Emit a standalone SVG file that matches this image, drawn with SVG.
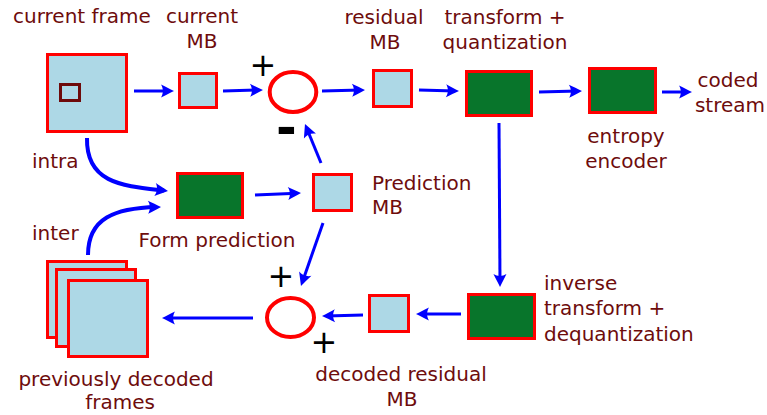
<svg xmlns="http://www.w3.org/2000/svg" width="767" height="415" viewBox="0 0 767 415">
  <style>
    .lbl { font-family: "DejaVu Sans", "Noto Sans", sans-serif; font-size: 20px; fill: #6e0c0c; }
    .mid { text-anchor: middle; }
    .sign { font-family: "DejaVu Sans", sans-serif; fill: #000; text-anchor: middle; }
    .blk { fill: #add8e6; stroke: #ff0000; stroke-width: 3; }
    .op { fill: #08752b; stroke: #ff0000; stroke-width: 3; }
    .sum { fill: #ffffff; stroke: #ff0000; stroke-width: 4; }
    .flow { fill: none; stroke: #0000ff; stroke-width: 3; marker-end: url(#arr); }
    .bend { fill: none; stroke: #0000ff; stroke-width: 4; marker-end: url(#arr); }
  </style>
  <defs>
    <marker id="arr" markerUnits="userSpaceOnUse" viewBox="-12 -8 18 16" refX="0" refY="0" markerWidth="18" markerHeight="16" orient="auto" overflow="visible">
      <path d="M4,0 C0,-2 -5,-4.5 -9,-6.5 C-6.5,-2.5 -6.5,2.5 -9,6.5 C-5,4.5 0,2 4,0 Z" fill="#0000ff"/>
    </marker>
  </defs>
  <rect width="767" height="415" fill="#ffffff"/>

  <!-- connectors -->
  <g id="connectors">
    <line class="flow" x1="134" y1="91" x2="170" y2="91"/>
    <line class="flow" x1="223" y1="91" x2="259" y2="90"/>
    <line class="flow" x1="322" y1="91" x2="361" y2="90"/>
    <line class="flow" x1="419" y1="90" x2="455" y2="91"/>
    <line class="flow" x1="539" y1="92" x2="578" y2="91"/>
    <line class="flow" x1="662" y1="92" x2="688" y2="92"/>
    <line class="flow" x1="321" y1="163" x2="306.5" y2="127.7"/>
    <line class="flow" x1="255" y1="195" x2="297" y2="193.2"/>
    <line class="flow" x1="323" y1="223" x2="302.3" y2="282.2"/>
    <line class="flow" x1="499" y1="123" x2="500" y2="283"/>
    <line class="flow" x1="461" y1="314" x2="420" y2="314"/>
    <line class="flow" x1="363" y1="315" x2="326" y2="316"/>
    <line class="flow" x1="253" y1="318" x2="166" y2="318"/>
    <path class="bend" d="M87,138 C86,184 124,186 164,190.5"/>
    <path class="bend" d="M88,255 C88,218 115,208 157,207"/>
  </g>

  <!-- current frame with the macroblock marked inside it -->
  <g id="current-frame">
    <rect class="blk" x="47.5" y="54.5" width="79" height="77"/>
    <rect x="60.5" y="84.5" width="19" height="16" fill="#add8e6" stroke="#6e0a0a" stroke-width="3"/>
    <text class="lbl" x="13" y="23">current frame</text>
  </g>

  <g id="current-mb">
    <rect class="blk" x="179.5" y="73.5" width="37" height="34"/>
    <text class="lbl mid" x="202" y="23">current</text>
    <text class="lbl mid" x="202" y="48">MB</text>
  </g>

  <g id="subtract">
    <ellipse class="sum" cx="293" cy="92" rx="23.3" ry="20"/>
    <text class="sign" x="263" y="76" font-size="32">+</text>
    <text class="sign" x="286.5" y="145" font-size="50" font-weight="bold">-</text>
  </g>

  <g id="residual-mb">
    <rect class="blk" x="373.5" y="70.5" width="38" height="36"/>
    <text class="lbl mid" x="384" y="24">residual</text>
    <text class="lbl mid" x="385" y="49">MB</text>
  </g>

  <g id="transform">
    <rect class="op" x="466.5" y="71.5" width="65" height="44"/>
    <text class="lbl mid" x="505" y="24">transform +</text>
    <text class="lbl mid" x="505" y="49">quantization</text>
  </g>

  <g id="entropy-encoder">
    <rect class="op" x="589.5" y="68.5" width="66" height="44"/>
    <text class="lbl mid" x="626" y="143">entropy</text>
    <text class="lbl mid" x="626" y="168">encoder</text>
  </g>

  <g id="coded-stream">
    <text class="lbl mid" x="728" y="87">coded</text>
    <text class="lbl mid" x="730" y="112">stream</text>
  </g>

  <g id="mode-labels">
    <text class="lbl" x="32" y="168">intra</text>
    <text class="lbl" x="32" y="240">inter</text>
  </g>

  <g id="form-prediction">
    <rect class="op" x="177.5" y="173.5" width="65" height="44"/>
    <text class="lbl mid" x="217" y="247">Form prediction</text>
  </g>

  <g id="prediction-mb">
    <rect class="blk" x="313.5" y="174.5" width="38" height="36"/>
    <text class="lbl" x="372" y="190">Prediction</text>
    <text class="lbl" x="372" y="214">MB</text>
  </g>

  <g id="inverse-transform">
    <rect class="op" x="468.5" y="294.5" width="66" height="44"/>
    <text class="lbl" x="544" y="290">inverse</text>
    <text class="lbl" x="544" y="315">transform +</text>
    <text class="lbl" x="544" y="341">dequantization</text>
  </g>

  <g id="decoded-residual-mb">
    <rect class="blk" x="369.5" y="295.5" width="39" height="36"/>
    <text class="lbl mid" x="401" y="381">decoded residual</text>
    <text class="lbl mid" x="402" y="406">MB</text>
  </g>

  <g id="add">
    <ellipse class="sum" cx="290.5" cy="317.5" rx="23.5" ry="19.5"/>
    <text class="sign" x="281" y="287" font-size="32">+</text>
    <text class="sign" x="324" y="353" font-size="32">+</text>
  </g>

  <!-- stack of reference frames -->
  <g id="previous-frames">
    <rect class="blk" x="47.5" y="261.5" width="79" height="76"/>
    <rect class="blk" x="56.5" y="269.5" width="79" height="77"/>
    <rect class="blk" x="68.5" y="280.5" width="79" height="76"/>
    <text class="lbl mid" x="116" y="386">previously decoded</text>
    <text class="lbl mid" x="120" y="409">frames</text>
  </g>
</svg>
